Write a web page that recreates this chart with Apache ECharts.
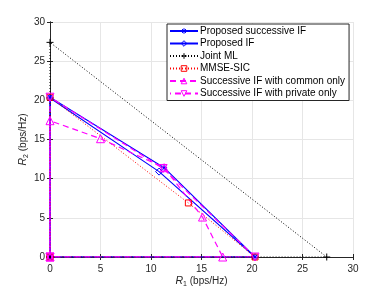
<!DOCTYPE html>
<html><head><meta charset="utf-8">
<script src="https://cdn.jsdelivr.net/npm/echarts@6/dist/echarts.min.js"></script>
<style>html,body{margin:0;padding:0;background:#fff}#c{width:390px;height:293px}</style>
</head><body><div id="c"></div>
<script>
// Rate-region vertices [R1, R2]
const succIF   = [[0,0],[0,20.4],[11.3,11.4],[20.3,0],[0,0]];
const propIF   = [[0,0],[0,20.3],[10.8,10.9],[20.3,0],[0,0]];
const jointML  = [[0,0],[0,27.4],[27.4,0],[0,0]];
const mmseSIC  = [[0,0],[0,20.4],[13.7,6.9],[20.3,0],[0,0]];
const commonOnly  = [[0,0],[0,17.4],[5,15.1],[11.3,11.4],[15.1,5.1],[17.1,0],[0,0]];
const privateOnly = [[0,0],[0,20.4],[11.2,11.3],[20.3,0],[0,0]];
const names = ['Proposed successive IF','Proposed IF','Joint ML','MMSE-SIC','Successive IF with common only','Successive IF with private only'];
const ticks = [0,5,10,15,20,25,30];

const F = 'Liberation Sans, Arial, Helvetica, sans-serif';
const asterisk = 'path://M5,0L5,10M0,5L10,5M1.5,1.5L8.5,8.5M1.5,8.5L8.5,1.5';
const plus = 'path://M5,0L5,10M0,5L10,5';
const downTri = 'path://M0,0L10,0L5,8.66Z';
const colors = ['#0000ff','#0000ff','#000000','#ff0000','#ff00ff','#ff00ff'];
const symbols = [asterisk,'diamond',plus,'rect','triangle',downTri];

function mk(i, data, type, width, size, extra) {
  const color = colors[i];
  return Object.assign({
    name: names[i], type: 'line', data, symbol: symbols[i], symbolSize: size,
    showAllSymbol: true, animation: false,
    lineStyle: { color, width, type },
    itemStyle: { color: 'rgba(0,0,0,0)', borderColor: color, borderWidth: 1 },
    emphasis: { disabled: true }
  }, extra || {});
}
const series = [
  mk(0, succIF, 'solid', 1.1, 6),
  mk(1, propIF, 'solid', 1.1, 7),
  mk(2, jointML, [1,2], 1, 7),
  mk(3, mmseSIC, [1,2], 1, 6),
  mk(4, commonOnly, [6,4], 1.2, 8),
  mk(5, privateOnly, [6,4], 1.2, 8, {lineStyle:{color:'#ff00ff',width:1.2,type:[6,4],dashOffset:5}})
];

const legendData = names.map((n, i) => ({
  name: n,
  itemStyle: { color: 'rgba(0,0,0,0)', borderColor: colors[i], borderWidth: 1 }
}));

const axisCommon = {
  type: 'value', min: 0, max: 30, interval: 5,
  axisLine: { show: true, lineStyle: { color: '#262626', width: 1 } },
  axisTick: { show: true, inside: true, length: 3, lineStyle: { color: '#262626' } },
  splitLine: { show: true, lineStyle: { color: '#e6e6e6', width: 1 } },
  axisLabel: { color: '#262626', fontFamily: F, fontSize: 10, margin: 5 }
};
const nameStyle = { fontFamily: F, fontSize: 10, color: '#262626',
  rich: { i: { fontStyle: 'italic', fontFamily: F, fontSize: 10.5, color: '#262626' },
          s: { fontSize: 7, fontFamily: F, color: '#262626', verticalAlign: 'bottom', padding: [6,0,0,0] } } };
const chart = echarts.init(document.getElementById('c'), null, { renderer: 'canvas' });
chart.setOption({
  backgroundColor: '#fff',
  animation: false,
  grid: { left: 50, right: 37, top: 22, bottom: 35, show: false },
  legend: {
    data: legendData, orient: 'vertical', left: 167, top: 24,
    itemWidth: 28, itemHeight: 7, itemGap: 0.5,
    padding: [1, 4, 1, 2],
    backgroundColor: '#fff', borderColor: '#262626', borderWidth: 1, borderRadius: 0,
    textStyle: { fontFamily: F, fontSize: 10, color: '#000', lineHeight: 12, padding: [0,0,0,-3] },
    selectedMode: false
  },
  xAxis: [
    Object.assign({}, axisCommon, {
      position: 'bottom',
      axisLabel: Object.assign({}, axisCommon.axisLabel, { margin: 7, formatter: v => ticks.includes(v) ? String(v) : '' }),
      name: '{i|R}{s|1} (bps/Hz)', nameLocation: 'middle', nameGap: 18, nameTextStyle: nameStyle,
      nameMoveOverlap: false
    }),
    Object.assign({}, axisCommon, { position: 'top', axisLabel: { show: false }, splitLine: { show: false } })
  ],
  yAxis: [
    Object.assign({}, axisCommon, {
      position: 'left',
      name: '{i|R}{s|2} (bps/Hz)', nameLocation: 'middle', nameGap: 20, nameTextStyle: nameStyle,
      nameMoveOverlap: false
    }),
    Object.assign({}, axisCommon, { position: 'right', axisLabel: { show: false }, splitLine: { show: false } })
  ],
  series: series
});
</script></body></html>
